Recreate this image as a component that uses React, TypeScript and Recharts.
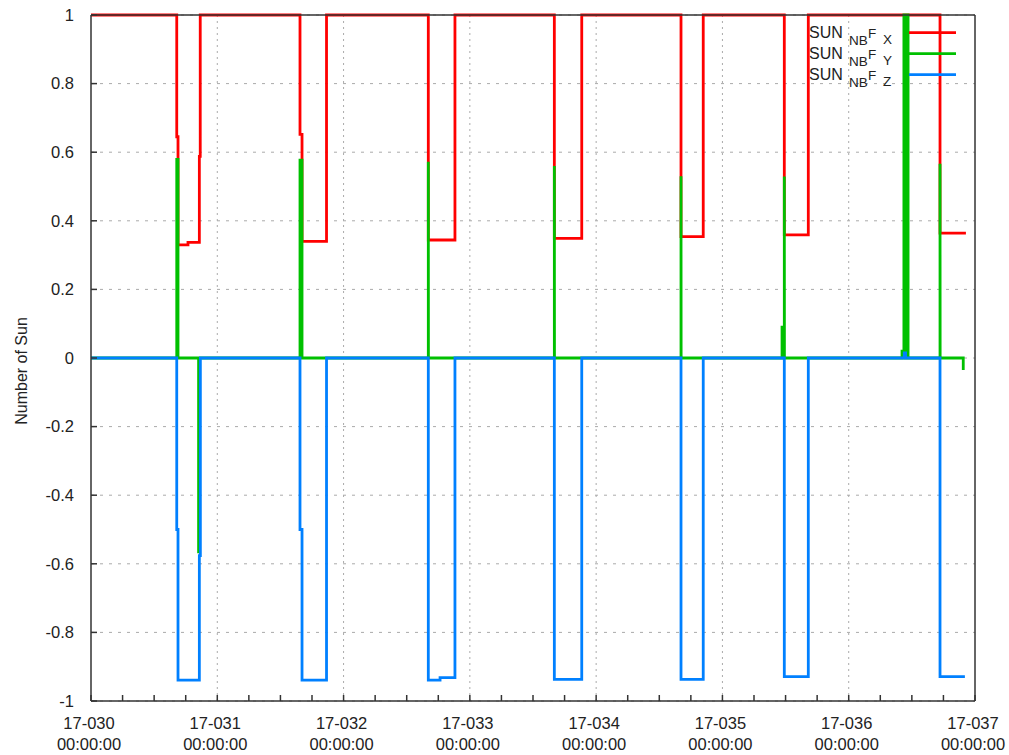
import { LineChart, Line, XAxis, YAxis, CartesianGrid, Legend } from "recharts";

// t = day of year 2017, v = sun direction component in NBF frame
const SUN_X: [number, number][] = [
  [30, 1],
  [30.679, 1], [30.679, 0.645], [30.689, 0.645], [30.689, 0.33],
  [30.768, 0.33], [30.768, 0.337], [30.858, 0.337], [30.858, 0.588],
  [30.865, 0.588], [30.865, 1],
  [31.655, 1], [31.655, 0.652], [31.671, 0.652], [31.671, 0.34], [31.865, 0.34], [31.865, 1],
  [32.671, 1], [32.671, 0.344], [32.882, 0.344], [32.882, 1],
  [33.669, 1], [33.669, 0.349], [33.886, 0.349], [33.886, 1],
  [34.672, 1], [34.672, 0.354], [34.848, 0.354], [34.848, 1],
  [35.49, 1], [35.49, 0.359], [35.68, 0.359], [35.68, 1],
  [36.723, 1], [36.723, 0.364], [36.928, 0.364],
];

const SUN_Y: [number, number][] = [
  [30, 0],
  [30.679, 0], [30.679, 0.579], [30.689, 0.579], [30.689, 0],
  [30.852, 0], [30.852, -0.565], [30.86, -0.565], [30.86, 0],
  [31.655, 0], [31.655, 0.577], [31.671, 0.577], [31.671, 0],
  [32.671, 0], [32.671, 0.572], [32.672, 0],
  [33.669, 0], [33.669, 0.56], [33.67, 0],
  [34.672, 0], [34.672, 0.53], [34.673, 0],
  [35.472, 0], [35.472, 0.09], [35.476, 0.09], [35.476, 0],
  [35.49, 0], [35.49, 0.529], [35.491, 0],
  [36.422, 0], [36.422, 0.02], [36.437, 0.02], [36.437, 1], [36.445, 1], [36.445, 0],
  [36.452, 0], [36.452, 1], [36.46, 1], [36.46, 0], [36.466, 0], [36.466, 1], [36.47, 1], [36.47, 0],
  [36.723, 0], [36.723, 0.566], [36.724, 0],
  [36.907, 0], [36.907, -0.035],
];

const SUN_Z: [number, number][] = [
  [30, 0],
  [30.679, 0], [30.679, -0.5], [30.689, -0.5], [30.689, -0.939],
  [30.858, -0.939], [30.858, -0.576], [30.866, -0.576], [30.866, 0],
  [31.655, 0], [31.655, -0.5], [31.671, -0.5], [31.671, -0.939], [31.865, -0.939], [31.865, 0],
  [32.671, 0], [32.671, -0.939], [32.764, -0.939], [32.764, -0.932], [32.882, -0.932], [32.882, 0],
  [33.669, 0], [33.669, -0.937], [33.886, -0.937], [33.886, 0],
  [34.672, 0], [34.672, -0.937], [34.848, -0.937], [34.848, 0],
  [35.49, 0], [35.49, -0.929], [35.68, -0.929], [35.68, 0],
  [36.44, 0], [36.44, 0.015], [36.45, 0.015], [36.45, 0],
  [36.723, 0], [36.723, -0.929], [36.92, -0.929],
];

const X_TICKS = [
  30, 30.25, 30.5, 30.75, 31, 31.25, 31.5, 31.75, 32, 32.25, 32.5, 32.75,
  33, 33.25, 33.5, 33.75, 34, 34.25, 34.5, 34.75, 35, 35.25, 35.5, 35.75,
  36, 36.25, 36.5, 36.75, 37,
];
const DAY_GRID = [31, 32, 33, 34, 35, 36];
const Y_TICKS = [-1, -0.8, -0.6, -0.4, -0.2, 0, 0.2, 0.4, 0.6, 0.8, 1];

const SERIES = [
  { name: "SUN NBF X", color: "#ff0000", points: SUN_X },
  { name: "SUN NBF Y", color: "#00c000", points: SUN_Y },
  { name: "SUN NBF Z", color: "#0080ff", points: SUN_Z },
];

const TEXT = "#222";
const AXIS = "#333";

const toRows = (pts: [number, number][]) => pts.map(([t, v]) => ({ t, v }));

const DayTick = ({ x, y, payload }: any) => {
  const v = payload.value;
  if (!Number.isInteger(v)) return <g />;
  return (
    <text x={x} y={y} textAnchor="middle" fill={TEXT} fontSize={16.5}>
      <tspan x={x - 2} dy={28}>{`17-0${v}`}</tspan>
      <tspan x={x - 2} dy={21}>00:00:00</tspan>
    </text>
  );
};

const YTitle = () => (
  <text x={27} y={371} transform="rotate(-90 27 371)" textAnchor="middle" fill={TEXT} fontSize={16}>
    Number of Sun
  </text>
);

const SunLegend = ({ payload }: any) => (
  <svg width={160} height={70} style={{ overflow: "visible" }}>
    {(payload || []).map((item: any, i: number) => {
      const axis = String(item.value).slice(-1);
      const base = 20 + i * 21;
      return (
        <g key={i}>
          <text y={base} fill={TEXT} fontSize={16}>
            <tspan x={4}>SUN</tspan>
            <tspan x={44} y={base + 7} fontSize={13.5}>NB</tspan>
            <tspan x={63} y={base} fontSize={13.5}>F</tspan>
            <tspan x={78} y={base + 6} fontSize={13.5}>{axis}</tspan>
          </text>
          <line x1={104} x2={151} y1={base - 5.3} y2={base - 5.3} stroke={item.color} strokeWidth={2.8} />
        </g>
      );
    })}
  </svg>
);

export default function App() {
  return (
    <div
      style={{
        position: "absolute",
        left: 0,
        top: 0,
        width: 1009,
        height: 755,
        background: "#fff",
        fontFamily: "'Liberation Sans', Arial, sans-serif",
      }}
    >
      <LineChart width={1009} height={755} margin={{ top: 10, right: 29, bottom: 24, left: 31 }}>
        <CartesianGrid vertical={false} stroke="#aaa" strokeDasharray="3 6" />
        <CartesianGrid horizontal={false} verticalValues={DAY_GRID} stroke="#aaa" strokeDasharray="2 4" />
        <XAxis
          dataKey="t"
          type="number"
          domain={[30, 37]}
          ticks={X_TICKS}
          interval={0}
          height={30}
          tickSize={-6}
          tickMargin={6}
          tick={<DayTick />}
          stroke={AXIS}
          strokeWidth={1.5}
        />
        <XAxis
          xAxisId="top"
          orientation="top"
          type="number"
          domain={[30, 37]}
          ticks={X_TICKS}
          interval={0}
          height={5}
          tickSize={-6}
          tick={false}
          stroke={AXIS}
          strokeWidth={1.5}
        />
        <YAxis
          type="number"
          domain={[-1, 1]}
          ticks={Y_TICKS}
          interval={0}
          width={60}
          tickSize={-6}
          tickMargin={23}
          tick={{ fill: TEXT, fontSize: 16.5 }}
          stroke={AXIS}
          strokeWidth={1.5}
          label={<YTitle />}
        />
        <YAxis
          yAxisId="r"
          orientation="right"
          type="number"
          domain={[-1, 1]}
          ticks={Y_TICKS}
          interval={0}
          width={5}
          tickSize={-6}
          tick={false}
          stroke={AXIS}
          strokeWidth={1.5}
        />
        {SERIES.map((s) => (
          <Line
            key={s.name}
            name={s.name}
            data={toRows(s.points)}
            dataKey="v"
            type="linear"
            stroke={s.color}
            strokeWidth={2.8}
            dot={false}
            activeDot={false}
            isAnimationActive={false}
          />
        ))}
        <Legend
          layout="vertical"
          align="center"
          verticalAlign="middle"
          content={<SunLegend />}
          wrapperStyle={{ top: 18, left: 805, width: 160, height: 70 }}
        />
      </LineChart>
    </div>
  );
}
